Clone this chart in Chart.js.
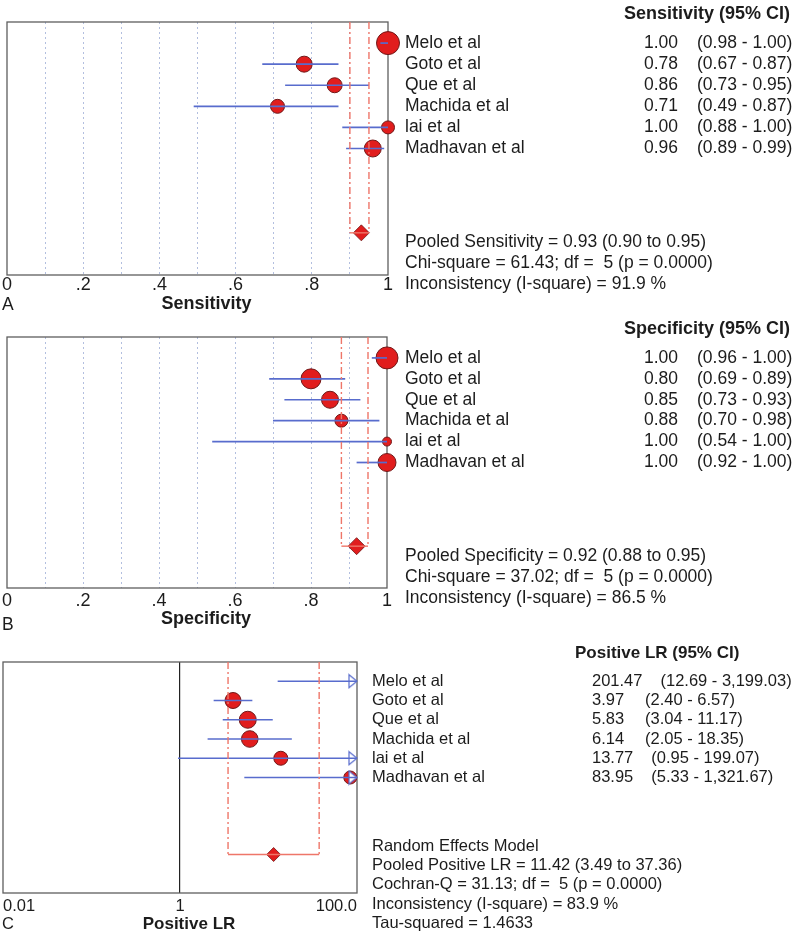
<!DOCTYPE html>
<html>
<head>
<meta charset="utf-8">
<script src="https://cdn.jsdelivr.net/npm/chart.js@4.4.1/dist/chart.umd.min.js"></script>
<style>
    body { margin: 0; background: #fff; }
    #wrap { position: relative; width: 800px; height: 935px; }
    canvas { position: absolute; left: 0; }
</style>
</head>
<body>
<div id="wrap">
    <canvas id="chartA" width="800" height="318" style="top:0px"></canvas>
    <canvas id="chartB" width="800" height="322" style="top:312px"></canvas>
    <canvas id="chartC" width="800" height="305" style="top:630px"></canvas>
</div>
<script>
// data
const studies = ['Melo et al', 'Goto et al', 'Que et al', 'Machida et al', 'lai et al', 'Madhavan et al'];

const senEst = [1.00, 0.78, 0.86, 0.71, 1.00, 0.96];
const senLo = [0.98, 0.67, 0.73, 0.49, 0.88, 0.89];
const senHi = [1.00, 0.87, 0.95, 0.87, 1.00, 0.99];
const senPooled = [0.93, 0.90, 0.95];
const senHet = [61.43, 5, '0.0000', 91.9];

const speEst = [1.00, 0.80, 0.85, 0.88, 1.00, 1.00];
const speLo = [0.96, 0.69, 0.73, 0.70, 0.54, 0.92];
const speHi = [1.00, 0.89, 0.93, 0.98, 1.00, 1.00];
const spePooled = [0.92, 0.88, 0.95];
const speHet = [37.02, 5, '0.0000', 86.5];

const plrEst = [201.47, 3.97, 5.83, 6.14, 13.77, 83.95];
const plrLo = [12.69, 2.40, 3.04, 2.05, 0.95, 5.33];
const plrHi = [3199.03, 6.57, 11.17, 18.35, 199.07, 1321.67];
const plrPooled = [11.42, 3.49, 37.36];
const plrHet = [31.13, 5, '0.0000', 83.9, 1.4633];

const propTicks = ['0', '.2', '.4', '.6', '.8', '1'];
const lrTicks = [0.01, 1, 100];
const lrTickLabels = ['0.01', '1', '100.0'];

// styles
const FONT = '"Liberation Sans", Arial, sans-serif';
const INK = '#1c1c1c';
const BLUE = 'rgb(88,108,205)';
const RED = '#e11d1d';
const RED_EDGE = '#701818';
const POOL = 'rgb(238,118,105)';
const POOL_ROW = 10;

const fmt2 = (v) => v.toLocaleString('en-US', { minimumFractionDigits: 2, maximumFractionDigits: 2 });

function arrowHead() {
    const c = document.createElement('canvas');
    c.width = 20;
    c.height = 16;
    const g = c.getContext('2d');
    g.beginPath();
    g.moveTo(2, 1.5);
    g.lineTo(10, 8);
    g.lineTo(2, 14.5);
    g.closePath();
    g.fillStyle = '#fff';
    g.fill();
    g.strokeStyle = BLUE;
    g.lineWidth = 1.2;
    g.stroke();
    return c;
}

const framePlugin = {
    id: 'frame',
    beforeDatasetsDraw(chart) {
        const { ctx, chartArea: a } = chart;
        ctx.save();
        ctx.strokeStyle = '#5e5e5e';
        ctx.lineWidth = 1.3;
        ctx.strokeRect(a.left, a.top, a.right - a.left, a.bottom - a.top);
        ctx.restore();
    },
};

function sideText(t) {
    return {
        id: 'sideText',
        afterDraw(chart) {
            const ctx = chart.ctx;
            const y = chart.scales.y;
            const area = chart.chartArea;
            ctx.save();
            ctx.fillStyle = INK;
            ctx.textBaseline = 'middle';

            ctx.font = 'bold ' + t.headSize + 'px ' + FONT;
            ctx.textAlign = t.headAlign;
            ctx.fillText(t.head, t.headX, y.getPixelForValue(t.headRow));

            // axis title, set a little right of the plot centre as in the source
            ctx.textAlign = 'center';
            ctx.fillText(t.axisTitle, (area.left + area.right) / 2 + 9, t.titleY);

            ctx.font = t.size + 'px ' + FONT;
            studies.forEach((name, i) => {
                const py = y.getPixelForValue(i + 1);
                ctx.textAlign = 'left';
                ctx.fillText(name, t.nameX, py);
                if (t.valAlign === 'right') {
                    ctx.textAlign = 'right';
                    ctx.fillText(fmt2(t.est[i]), t.valX, py);
                    ctx.textAlign = 'left';
                    ctx.fillText('(' + fmt2(t.lo[i]) + ' - ' + fmt2(t.hi[i]) + ')', t.ciX, py);
                } else {
                    const v = fmt2(t.est[i]);
                    ctx.fillText(v, t.valX, py);
                    const cx = Math.max(t.ciX, t.valX + ctx.measureText(v).width + 18);
                    ctx.fillText('(' + fmt2(t.lo[i]) + ' - ' + fmt2(t.hi[i]) + ')', cx, py);
                }
            });

            t.stats.forEach((line, k) => {
                ctx.fillText(line, t.nameX, y.getPixelForValue(t.statsRow + k * t.statsStep));
            });

            ctx.fillText(t.letter, 2, t.letterY);
            ctx.restore();
        },
    };
}

function forestChart(id, c) {
    const xMax = c.xMax;
    const datasets = [];

    // pooled estimate band
    datasets.push({
        data: [{ x: c.pooled[1], y: 0 }, { x: c.pooled[1], y: POOL_ROW }],
        showLine: true, borderColor: POOL, borderWidth: 1.4, borderDash: [7, 3, 2, 3], pointRadius: 0,
    });
    datasets.push({
        data: [{ x: c.pooled[2], y: 0 }, { x: c.pooled[2], y: POOL_ROW }],
        showLine: true, borderColor: POOL, borderWidth: 1.4, borderDash: [7, 3, 2, 3], pointRadius: 0,
    });
    datasets.push({
        data: [{ x: c.pooled[1], y: POOL_ROW }, { x: c.pooled[2], y: POOL_ROW }],
        showLine: true, borderColor: POOL, borderWidth: 1.4, pointRadius: 0,
    });

    // confidence intervals
    studies.forEach((s, i) => {
        datasets.push({
            data: [{ x: c.lo[i], y: i + 1 }, { x: Math.min(c.hi[i], xMax), y: i + 1 }],
            showLine: true, borderColor: BLUE, borderWidth: 1.7, pointRadius: 0,
        });
    });

    // arrows for intervals running past the axis
    const arrows = [];
    studies.forEach((s, i) => {
        if (c.hi[i] > xMax) arrows.push({ x: xMax, y: i + 1 });
    });
    datasets.push({
        data: arrows, pointStyle: arrowHead(), pointRadius: 8, clip: false,
    });

    // study estimates
    datasets.push({
        data: c.est.map((v, i) => ({ x: v, y: i + 1 })),
        pointRadius: c.radius, pointBackgroundColor: RED, pointBorderColor: RED_EDGE,
        pointBorderWidth: 1, clip: false,
    });

    // pooled diamond
    datasets.push({
        data: [{ x: c.pooled[0], y: POOL_ROW }],
        pointStyle: 'rectRot', pointRadius: c.diamond, pointBackgroundColor: RED,
        pointBorderColor: RED_EDGE, pointBorderWidth: 0.8, clip: false,
    });

    new Chart(document.getElementById(id), {
        type: 'scatter',
        data: { datasets: datasets },
        options: {
            responsive: false,
            animation: false,
            events: [],
            layout: { padding: c.padding, autoPadding: false },
            plugins: { legend: { display: false }, tooltip: { enabled: false } },
            scales: {
                x: c.xScale,
                y: { type: 'linear', min: 0, max: 12, reverse: true, display: false },
            },
        },
        plugins: [framePlugin, sideText(c.text)],
    });
}

function fixAxis(h) {
    return (scale) => {
        scale.height = h;
        scale.paddingLeft = 0;
        scale.paddingRight = 0;
    };
}

function propScale(axisH, tickPad) {
    return {
        type: 'linear',
        min: 0,
        max: 1,
        afterFit: fixAxis(axisH),
        ticks: {
            stepSize: 0.1,
            autoSkip: false,
            maxRotation: 0,
            padding: tickPad,
            color: INK,
            font: { size: 18, family: FONT },
            callback: (v, i) => (i % 2 === 0 ? propTicks[i / 2] : ''),
        },
        grid: {
            drawTicks: false,
            lineWidth: 1,
            color: (ctx) => (ctx.tick && (ctx.tick.value <= 0.001 || ctx.tick.value >= 0.999) ? 'rgba(0,0,0,0)' : '#b3bfdf'),
        },
        border: { display: false, dash: [2, 3] },
    };
}

forestChart('chartA', {
    est: senEst, lo: senLo, hi: senHi, pooled: senPooled, xMax: 1,
    radius: [11.5, 8, 7.5, 7, 6.5, 8.5], diamond: 8,
    padding: { top: 22, left: 7, right: 412, bottom: 1 },
    xScale: propScale(42, -1),
    text: {
        head: 'Sensitivity (95% CI)', headSize: 18, headAlign: 'right', headX: 790, headRow: -0.38,
        axisTitle: 'Sensitivity', titleY: 304,
        size: 17.5, nameX: 405, valAlign: 'right', valX: 678, ciX: 697,
        est: senEst, lo: senLo, hi: senHi,
        stats: [
            'Pooled Sensitivity = ' + fmt2(senPooled[0]) + ' (' + fmt2(senPooled[1]) + ' to ' + fmt2(senPooled[2]) + ')',
            'Chi-square = ' + fmt2(senHet[0]) + '; df =  ' + senHet[1] + ' (p = ' + senHet[2] + ')',
            'Inconsistency (I-square) = ' + senHet[3].toFixed(1) + ' %',
        ],
        statsRow: 10.45, statsStep: 1, letter: 'A', letterY: 305,
    },
});

forestChart('chartB', {
    est: speEst, lo: speLo, hi: speHi, pooled: spePooled, xMax: 1,
    radius: [11, 10, 8.5, 6.5, 4.5, 9], diamond: 8.5,
    padding: { top: 25, left: 7, right: 413, bottom: 3 },
    xScale: propScale(43, 2),
    text: {
        head: 'Specificity (95% CI)', headSize: 18, headAlign: 'right', headX: 790, headRow: -0.38,
        axisTitle: 'Specificity', titleY: 307,
        size: 17.5, nameX: 405, valAlign: 'right', valX: 678, ciX: 697,
        est: speEst, lo: speLo, hi: speHi,
        stats: [
            'Pooled Specificity = ' + fmt2(spePooled[0]) + ' (' + fmt2(spePooled[1]) + ' to ' + fmt2(spePooled[2]) + ')',
            'Chi-square = ' + fmt2(speHet[0]) + '; df =  ' + speHet[1] + ' (p = ' + speHet[2] + ')',
            'Inconsistency (I-square) = ' + speHet[3].toFixed(1) + ' %',
        ],
        statsRow: 10.5, statsStep: 1, letter: 'B', letterY: 313,
    },
});

forestChart('chartC', {
    est: plrEst, lo: plrLo, hi: plrHi, pooled: plrPooled, xMax: 100,
    radius: [8, 8, 8.5, 8.3, 7, 6.5], diamond: 7,
    padding: { top: 32, left: 3, right: 443, bottom: 0 },
    xScale: {
        type: 'logarithmic',
        min: 0.01,
        max: 100,
        afterBuildTicks(scale) { scale.ticks = lrTicks.map((v) => ({ value: v })); },
        afterFit: fixAxis(42),
        ticks: {
            align: 'inner',
            autoSkip: false,
            maxRotation: 0,
            padding: 4,
            color: INK,
            font: { size: 16.5, family: FONT },
            callback: (v, i) => lrTickLabels[i],
        },
        grid: {
            drawTicks: false,
            lineWidth: 1.2,
            color: (ctx) => (ctx.tick && ctx.tick.value === 1 ? '#222' : 'rgba(0,0,0,0)'),
        },
        border: { display: false },
    },
    text: {
        head: 'Positive LR (95% CI)', headSize: 17, headAlign: 'left', headX: 575, headRow: -0.47,
        axisTitle: 'Positive LR', titleY: 294,
        size: 16.5, nameX: 372, valAlign: 'left', valX: 592, ciX: 645,
        est: plrEst, lo: plrLo, hi: plrHi,
        stats: [
            'Random Effects Model',
            'Pooled Positive LR = ' + fmt2(plrPooled[0]) + ' (' + fmt2(plrPooled[1]) + ' to ' + fmt2(plrPooled[2]) + ')',
            'Cochran-Q = ' + fmt2(plrHet[0]) + '; df =  ' + plrHet[1] + ' (p = ' + plrHet[2] + ')',
            'Inconsistency (I-square) = ' + plrHet[3].toFixed(1) + ' %',
            'Tau-squared = ' + plrHet[4].toFixed(4),
        ],
        statsRow: 9.6, statsStep: 0.99, letter: 'C', letterY: 294,
    },
});
</script>
</body>
</html>
